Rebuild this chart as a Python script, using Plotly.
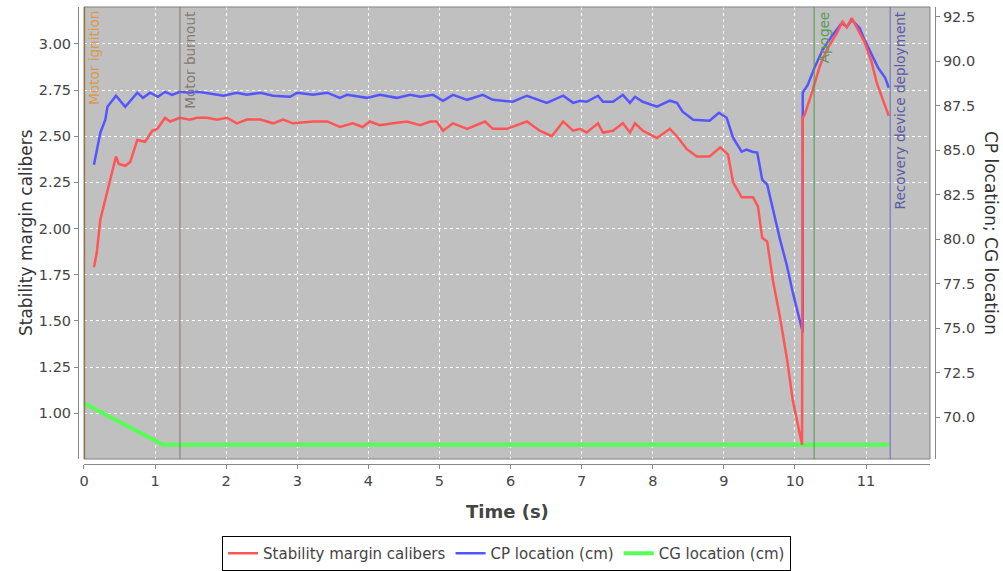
import plotly.graph_objects as go

# ---------------- data ----------------
t_stab = [0.14, 0.18, 0.23, 0.30, 0.37, 0.45, 0.49, 0.58, 0.65, 0.75, 0.86, 0.96, 1.03, 1.14, 1.21,
          1.35, 1.49, 1.59, 1.73, 1.87, 2.01, 2.15, 2.29, 2.48, 2.66, 2.80, 2.94, 3.22, 3.42, 3.60,
          3.78, 3.92, 4.02, 4.16, 4.35, 4.54, 4.73, 4.87, 4.96, 5.05, 5.19, 5.39, 5.64, 5.75, 5.95,
          6.23, 6.41, 6.58, 6.74, 6.88, 6.98, 7.07, 7.23, 7.30, 7.44, 7.58, 7.68, 7.75, 7.86, 8.06,
          8.24, 8.34, 8.48, 8.62, 8.80, 8.95, 9.06, 9.13, 9.25, 9.34, 9.41, 9.48, 9.54, 9.61, 9.69,
          9.79, 9.89, 9.97, 10.10, 10.11, 10.14, 10.25, 10.35, 10.45, 10.59, 10.67, 10.73, 10.80,
          10.87, 10.98, 11.08, 11.15, 11.32]
stability = [1.79, 1.87, 2.05, 2.16, 2.28, 2.39, 2.35, 2.34, 2.36, 2.48, 2.47, 2.53, 2.54, 2.60, 2.58,
             2.60, 2.59, 2.60, 2.60, 2.59, 2.60, 2.57, 2.59, 2.59, 2.57, 2.59, 2.57, 2.58, 2.58, 2.55,
             2.57, 2.55, 2.58, 2.56, 2.57, 2.58, 2.56, 2.58, 2.58, 2.53, 2.57, 2.54, 2.58, 2.54, 2.54,
             2.58, 2.53, 2.50, 2.58, 2.53, 2.54, 2.52, 2.57, 2.52, 2.53, 2.57, 2.52, 2.57, 2.53, 2.49,
             2.54, 2.50, 2.43, 2.39, 2.39, 2.44, 2.40, 2.25, 2.17, 2.17, 2.17, 2.12, 1.95, 1.93, 1.72,
             1.52, 1.29, 1.07, 0.83, 2.60, 2.62, 2.75, 2.88, 2.97, 3.06, 3.12, 3.09, 3.14,
             3.09, 3.01, 2.90, 2.79, 2.61]

t_cp = [0.14, 0.18, 0.23, 0.30, 0.33, 0.45, 0.58, 0.75, 0.83, 0.93, 1.04, 1.14, 1.24, 1.35, 1.49,
        1.59, 1.70, 1.96, 2.15, 2.29, 2.48, 2.66, 2.90, 3.00, 3.22, 3.42, 3.60, 3.70, 3.98, 4.16,
        4.40, 4.59, 4.73, 4.91, 5.05, 5.19, 5.39, 5.61, 5.75, 6.03, 6.23, 6.51, 6.74, 6.88, 6.98,
        7.07, 7.23, 7.30, 7.44, 7.58, 7.68, 7.75, 7.86, 8.06, 8.24, 8.34, 8.42, 8.57, 8.80, 8.93,
        9.04, 9.13, 9.25, 9.32, 9.40, 9.47, 9.54, 9.61, 9.69, 9.79, 9.89, 9.97, 10.11, 10.11,
        10.18, 10.28, 10.39, 10.53, 10.66, 10.73, 10.80, 10.91, 10.98, 11.05, 11.17, 11.27, 11.32]
cp_location = [84.19, 84.92, 85.99, 86.72, 87.45, 88.07, 87.45, 88.24, 87.95, 88.24, 88.01, 88.29, 88.12,
               88.29, 88.24, 88.29, 88.24, 88.07, 88.24, 88.12, 88.24, 88.07, 88.01, 88.24, 88.12, 88.24,
               87.95, 88.12, 87.95, 88.12, 87.95, 88.12, 88.01, 88.12, 87.79, 88.12, 87.84, 88.12, 87.84,
               87.73, 88.07, 87.67, 88.07, 87.67, 87.79, 87.73, 88.07, 87.73, 87.73, 88.12, 87.67, 88.01,
               87.73, 87.45, 87.79, 87.67, 87.17, 86.72, 86.66, 87.11, 86.83, 85.71, 84.92, 85.04, 84.92,
               84.87, 83.35, 83.07, 81.67, 79.99, 78.47, 77.01, 74.77, 88.24, 88.68, 89.69, 90.65, 91.49,
               92.16, 91.94, 92.33, 91.88, 91.21, 90.65, 89.64, 89.08, 88.52]

t_cg = [0.0, 1.11, 11.32]
cg_location = [70.78, 68.44, 68.44]

event_names = ["Motor ignition", "Motor burnout", "Apogee", "Recovery device deployment"]
event_times = [0.01, 1.35, 10.27, 11.34]
event_text_colors = ["#d99a4e", "#857a72", "#5a9a5a", "#5a5aa8"]
event_line_colors = ["#9a6c3c", "#857a72", "#4a9a4a", "#6a6ab8"]

x_ticks = list(range(0, 12))
stab_ticks = [1.00, 1.25, 1.50, 1.75, 2.00, 2.25, 2.50, 2.75, 3.00]
cp_ticks = [70.0, 72.5, 75.0, 77.5, 80.0, 82.5, 85.0, 87.5, 90.0, 92.5]

# ---------------- figure ----------------
FONT = "DejaVu Sans"
TXT = "#444444"
AX = "#888888"

fig = go.Figure()
fig.add_trace(go.Scatter(x=t_stab, y=stability, name="Stability margin calibers", mode="lines",
                         line=dict(color="#ff5555", width=2.5), yaxis="y2"))
fig.add_trace(go.Scatter(x=t_cp, y=cp_location, name="CP location (cm)", mode="lines",
                         line=dict(color="#5555ff", width=2.5), yaxis="y"))
fig.add_trace(go.Scatter(x=t_cg, y=cg_location, name="CG location (cm)", mode="lines",
                         line=dict(color="#55ff55", width=4), yaxis="y"))

fig.update_layout(
    width=1003, height=571,
    margin=dict(l=60, r=60, t=0, b=100),
    paper_bgcolor="white", plot_bgcolor="#c0c0c0",
    font=dict(family=FONT, color=TXT),
    template="none",
    xaxis=dict(domain=[0.02718, 0.98528], range=[0, 11.9], anchor="free", position=0.01274,
               tickvals=x_ticks, ticks="outside", ticklen=4, tickcolor=AX,
               showline=True, linecolor=AX, linewidth=1,
               showgrid=True, gridcolor="white", griddash="3px,3px", gridwidth=1,
               zeroline=False, tickfont=dict(size=14.5, color=TXT), automargin=False),
    yaxis=dict(domain=[0.02335, 0.98514], range=[67.64, 93.06], side="right", anchor="free",
               position=0.99094, tickvals=cp_ticks, ticktext=[f"{v:.1f}" for v in cp_ticks],
               ticks="outside", ticklen=4, tickcolor=AX, showline=True, linecolor=AX,
               showgrid=False, zeroline=False, tickfont=dict(size=14.5, color=TXT), automargin=False),
    yaxis2=dict(overlaying="y", side="left", anchor="free", position=0.02038,
                range=[0.752, 3.20], tickvals=stab_ticks, ticktext=[f"{v:.2f}" for v in stab_ticks],
                ticks="outside", ticklen=4, tickcolor=AX, showline=True, linecolor=AX,
                showgrid=True, gridcolor="white", griddash="3px,3px", gridwidth=1,
                zeroline=False, tickfont=dict(size=14.5, color=TXT), automargin=False),
    legend=dict(orientation="h", x=0.5057, xanchor="center", y=-0.1401, yanchor="top",
                bordercolor="black", borderwidth=1, bgcolor="white",
                font=dict(size=15, color=TXT), itemwidth=30),
)

# plot-area border
fig.add_shape(type="rect", xref="x domain", yref="y domain", x0=0, x1=1, y0=0, y1=1,
              line=dict(color="#808080", width=1), layer="above")

# flight events
for name, t, tc, lc in zip(event_names, event_times, event_text_colors, event_line_colors):
    fig.add_shape(type="line", xref="x", yref="y domain", x0=t, x1=t, y0=0, y1=1,
                  line=dict(color=lc, width=1), layer="above")
    fig.add_annotation(x=t, xref="x", y=0.995, yref="y domain", text=name, textangle=-90,
                       xanchor="left", yanchor="top", showarrow=False, xshift=0,
                       font=dict(size=13.6, color=tc, family=FONT))

# axis titles
fig.add_annotation(x=-0.0385, xref="paper", y=0.5, yref="y domain", text="Stability margin calibers",
                   textangle=-90, showarrow=False, xanchor="center", yanchor="middle",
                   font=dict(size=17, color="#333333", family=FONT))
fig.add_annotation(x=1.0544, xref="paper", y=0.5, yref="y domain", text="CP location; CG location",
                   textangle=90, showarrow=False, xanchor="center", yanchor="middle",
                   font=dict(size=17, color="#333333", family=FONT))
fig.add_annotation(x=0.5, xref="x domain", y=-0.0892, yref="paper", text="<b>Time (s)</b>",
                   showarrow=False, xanchor="center", yanchor="middle",
                   font=dict(size=18, color="#444444", family=FONT))

fig.write_html("out.html")
